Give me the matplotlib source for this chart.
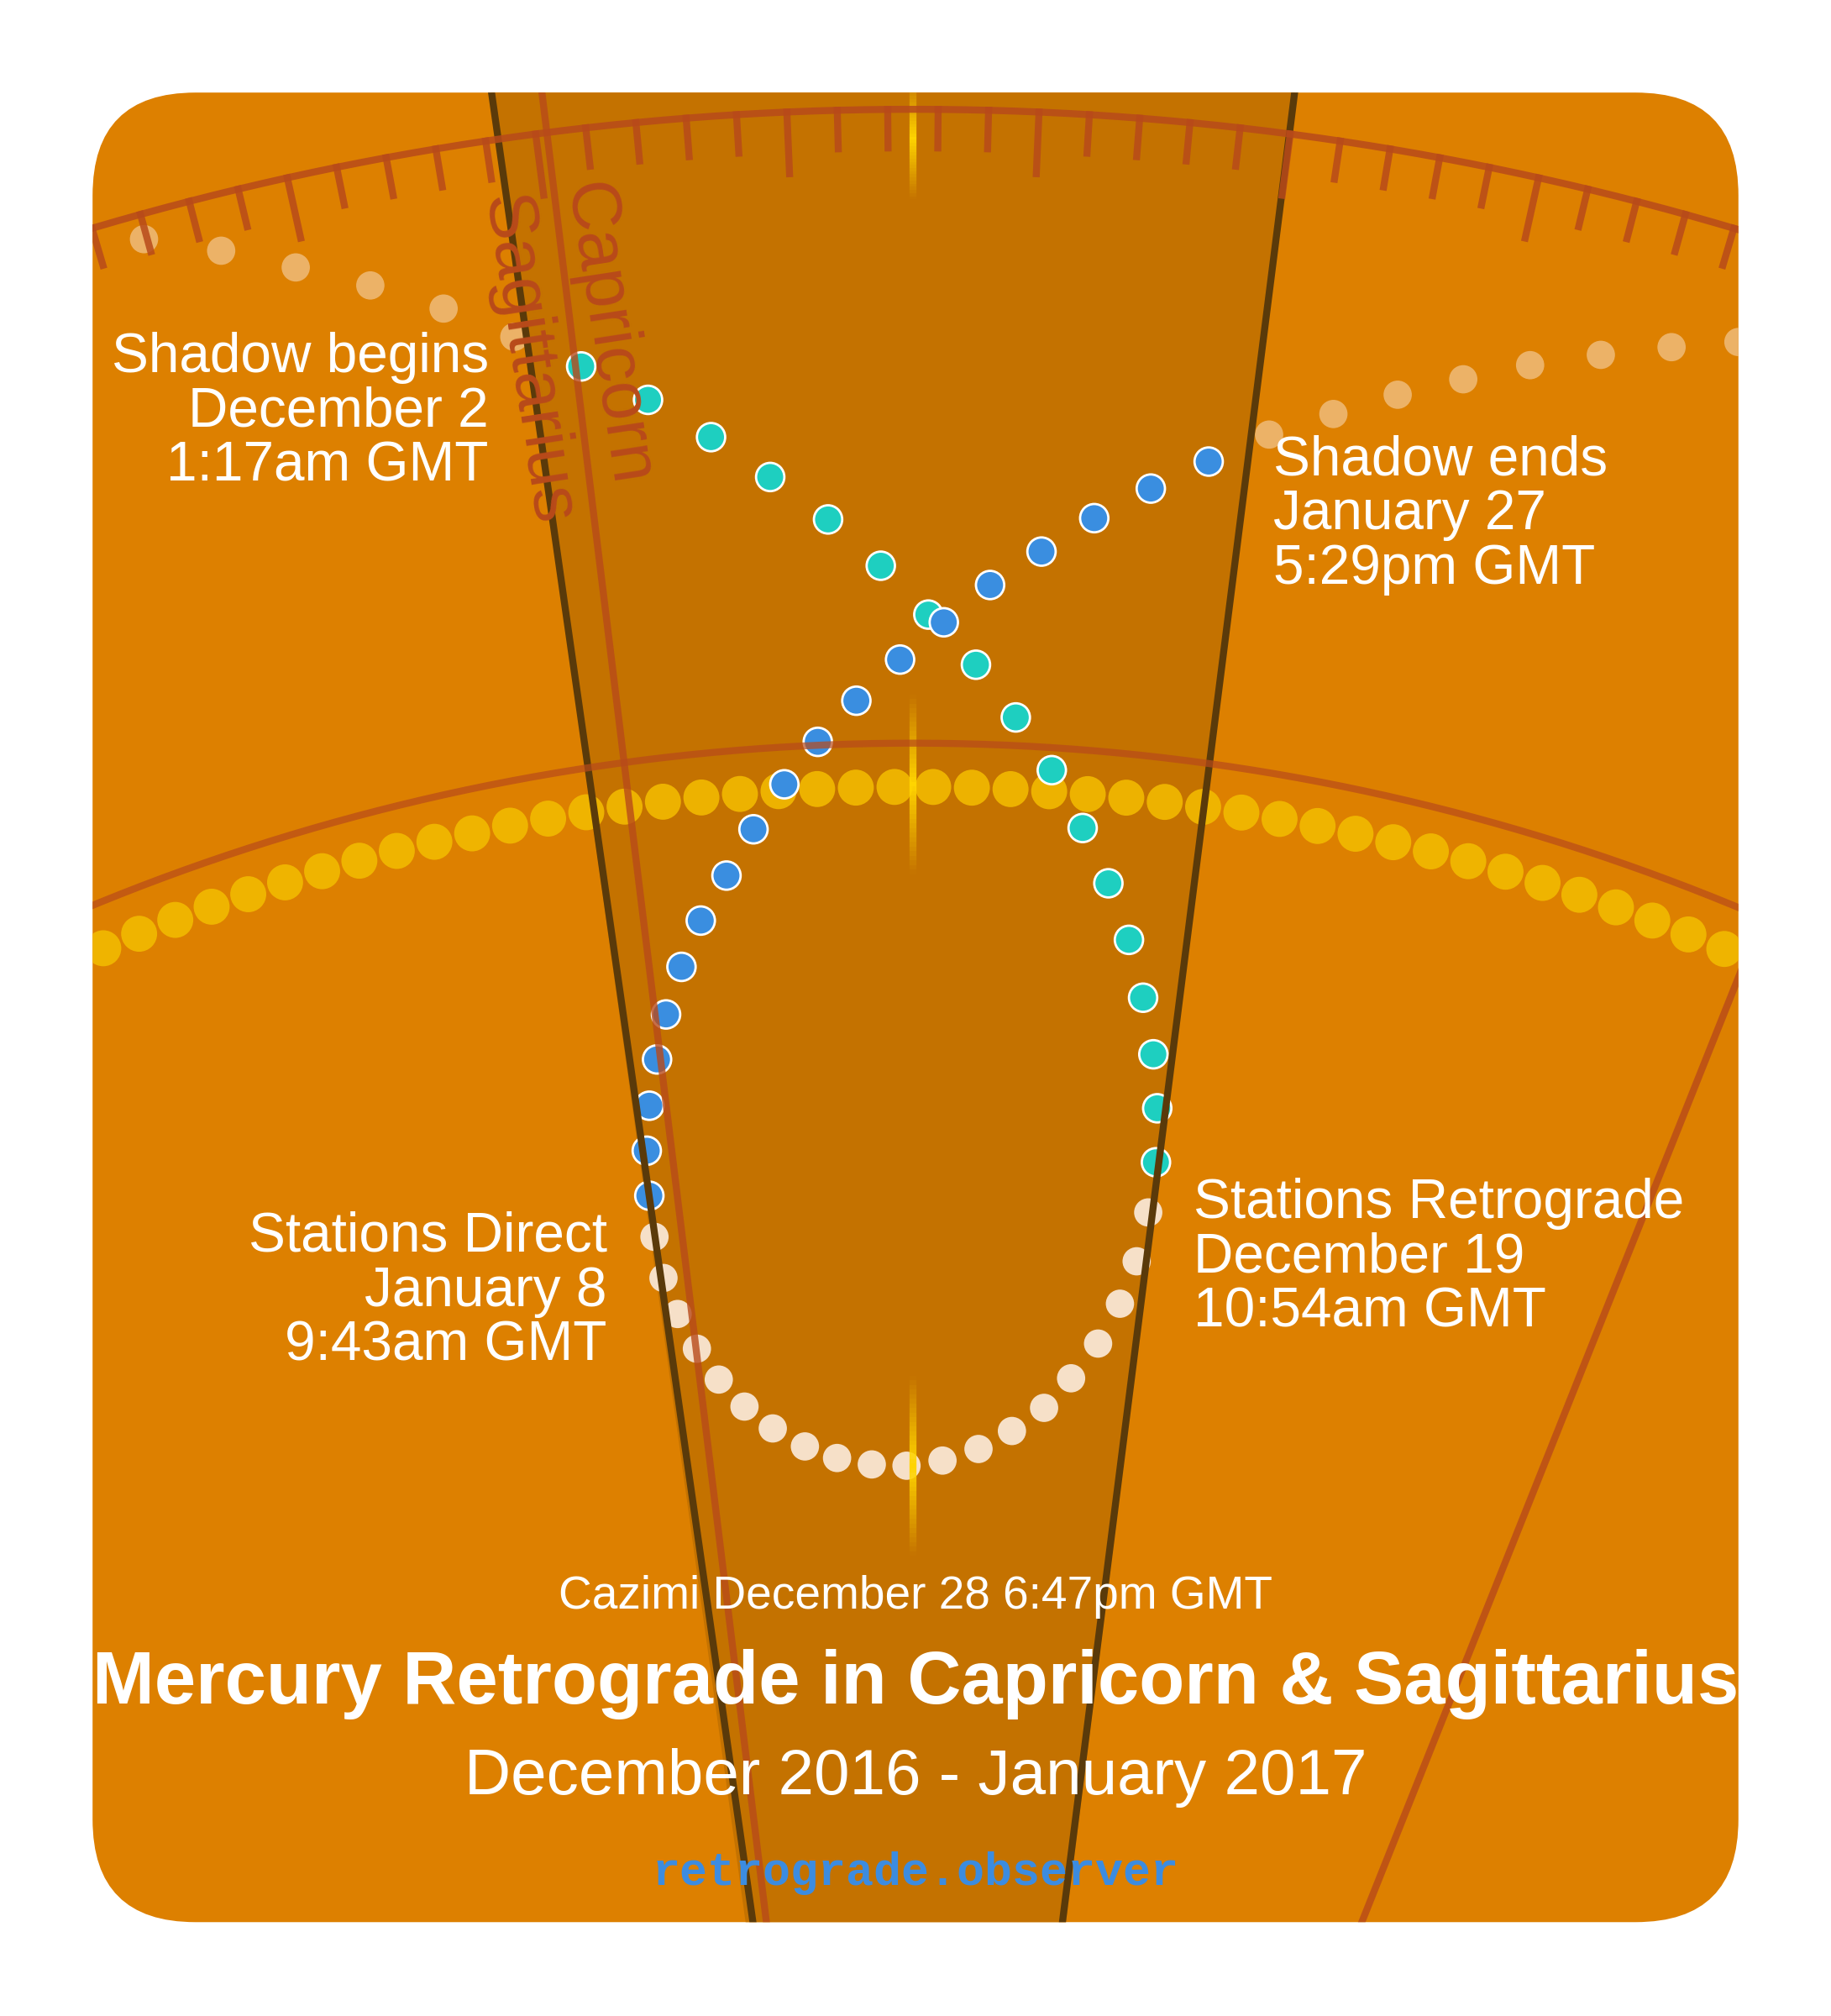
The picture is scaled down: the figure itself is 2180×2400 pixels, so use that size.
import matplotlib.pyplot as plt
import numpy as np
from matplotlib.patches import FancyBboxPatch, Polygon, Circle

# positions of the planet dots (screen pixels of a 1424x1568 canvas)
teal_x = [452, 504, 553, 599, 644, 685, 722, 759, 790, 818, 842, 862, 878, 889, 897, 900, 899]
teal_y = [285, 311, 340, 371, 404, 440, 478, 517, 558, 599, 644, 687, 731, 776, 820, 862, 904]
retro_x = [893, 884, 871, 854, 833, 812, 787, 761, 733, 705, 678, 651, 626, 601, 579, 559, 542, 527, 516, 509]
retro_y = [943, 981, 1014, 1045, 1072, 1095, 1113, 1127, 1136, 1140, 1139, 1134, 1125, 1111, 1094, 1073, 1049, 1022, 994, 962]
blue_x = [505, 503, 505, 511, 518, 530, 545, 565, 586, 610, 636, 666, 700, 734, 770, 810, 851, 895, 940]
blue_y = [930, 895, 860, 824, 789, 752, 716, 681, 645, 610, 577, 545, 513, 484, 455, 429, 403, 380, 359]
faint_x = [112, 172, 230, 288, 345, 400, 987, 1037, 1087, 1138, 1190, 1245, 1300, 1352]
faint_y = [186, 195, 208, 222, 240, 262, 338, 322, 307, 295, 284, 276, 270, 266]

W, H = 1424, 1568
fig = plt.figure(figsize=(21.8, 24), dpi=100)
ax = fig.add_axes([0, 0, 1, 1])
ax.set_xlim(0, W)
ax.set_ylim(H, 0)
ax.axis('off')
S = 1.1  # px -> pt

card = FancyBboxPatch((72, 72), 1280, 1423, boxstyle="round,pad=0,rounding_size=80",
                      fc='#DD8000', ec='none')
ax.add_patch(card)

def clip(a):
    a.set_clip_path(card)
    return a

# dark wedge
clip(ax.add_patch(Polygon([(372, 0), (1016, 0), (820, 1568), (590, 1568)], fc='#C47200', ec='none')))
l1, = ax.plot([372, 596], [0, 1568], color='#5A3A0A', lw=6)
l2, = ax.plot([1016, 817], [0, 1568], color='#5A3A0A', lw=6)
l3, = ax.plot([420, 605], [60, 1568], color='#B84A1A', lw=6, alpha=0.8)
l4, = ax.plot([1380, 1030], [690, 1568], color='#B84A1A', lw=6, alpha=0.8)
for l in (l1, l2, l3, l4):
    clip(l)

# yellow meridian segments
for y0, y1 in [(60, 155), (540, 680), (1070, 1210)]:
    ys = np.linspace(y0, y1, 40)
    for a, b in zip(ys[:-1], ys[1:]):
        m = (a + b) / 2
        al = 1 - abs(m - (y0 + y1) / 2) / ((y1 - y0) / 2)
        clip(ax.plot([710, 710], [a, b], color='#FFD400', lw=6, alpha=max(al, 0), solid_capstyle='butt')[0])

# outer arc with ticks
cx, cy, R = 710, 2333, 2248
th = np.radians(np.linspace(-25, 25, 400))
clip(ax.plot(cx + R * np.sin(th), cy - R * np.cos(th), color='#B84A1A', lw=6, alpha=0.85)[0])
for k in range(-25, 26):
    d = 2.5 + k
    t = np.radians(d)
    ln = 48 if k % 5 == 0 else 30
    xs = [cx + R * np.sin(t), cx + (R - ln) * np.sin(t)]
    ys = [cy - R * np.cos(t), cy - (R - ln) * np.cos(t)]
    clip(ax.plot(xs, ys, color='#B84A1A', lw=6, alpha=0.85)[0])

# inner arc and sun dots
cy2, R2 = 2254, 1676
th = np.radians(np.linspace(-30, 30, 400))
clip(ax.plot(cx + R2 * np.sin(th), cy2 - R2 * np.cos(th), color='#B84A1A', lw=6, alpha=0.7)[0])
for d in np.arange(-27, 27.5, 1.05):
    t = np.radians(d + 0.25)
    clip(ax.add_patch(Circle((cx + 1642 * np.sin(t), cy2 - 1642 * np.cos(t)), 14,
                             fc='#F2BA00', ec='none', alpha=0.9)))

for x, y in zip(faint_x, faint_y):
    clip(ax.add_patch(Circle((x, y), 11, fc='#F2C48A', ec='none', alpha=0.75)))
for x, y in zip(retro_x, retro_y):
    clip(ax.add_patch(Circle((x, y), 11, fc='#F6E0C8', ec='none')))
for x, y in zip(teal_x, teal_y):
    ax.add_patch(Circle((x, y), 11, fc='#1ECFC0', ec='white', lw=2))
for x, y in zip(blue_x, blue_y):
    ax.add_patch(Circle((x, y), 11, fc='#3A8EE0', ec='white', lw=2))

font = 'Liberation Sans'
fs = 43 * S
rot = -81.3
ax.text(472, 260, 'Capricorn', rotation=rot, rotation_mode='anchor', ha='center', va='center',
        color='#B84A1A', fontsize=55 * S, family=font)
ax.text(410, 280, 'Sagittarius', rotation=rot, rotation_mode='anchor', ha='center', va='center',
        color='#B84A1A', fontsize=55 * S, family=font)

ax.text(380, 258, 'Shadow begins\nDecember 2\n1:17am GMT', ha='right', va='top', color='white',
        fontsize=fs, family=font, linespacing=1.06)
ax.text(990, 338, 'Shadow ends\nJanuary 27\n5:29pm GMT', ha='left', va='top', color='white',
        fontsize=fs, family=font, linespacing=1.06)
ax.text(472, 942, 'Stations Direct\nJanuary 8\n9:43am GMT', ha='right', va='top', color='white',
        fontsize=fs, family=font, linespacing=1.06)
ax.text(928, 916, 'Stations Retrograde\nDecember 19\n10:54am GMT', ha='left', va='top', color='white',
        fontsize=fs, family=font, linespacing=1.06)
ax.text(712, 1242, 'Cazimi December 28 6:47pm GMT', ha='center', va='center', color='white',
        fontsize=36 * S, family=font)
ax.text(712, 1310, 'Mercury Retrograde in Capricorn & Sagittarius', ha='center', va='center',
        color='white', fontsize=58 * S, family=font, fontweight='bold')
ax.text(712, 1383, 'December 2016 - January 2017', ha='center', va='center', color='white',
        fontsize=50 * S, family=font)
ax.text(712, 1457, 'retrograde.observer', ha='center', va='center', color='#3C8CE0',
        fontsize=36 * S, family='Liberation Mono', fontweight='bold')

fig.savefig('out.png', dpi=100, facecolor='white')
